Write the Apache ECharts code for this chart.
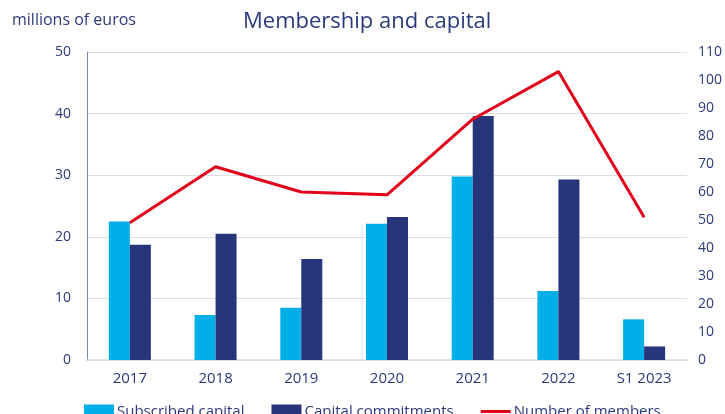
<!DOCTYPE html>
<html>
<head>
<meta charset="utf-8">
<script src="https://cdn.jsdelivr.net/npm/echarts@6/dist/echarts.min.js"></script>
<style>
  html, body { margin: 0; padding: 0; background: #ffffff; }
  #chart { width: 725px; height: 414px; }
</style>
</head>
<body>
<div id="chart"></div>
<script>
// Categories and values (millions of euros; members as counts)
const categories = ['2017', '2018', '2019', '2020', '2021', '2022', 'S1 2023'];
const subscribedCapital = [22.5, 7.3, 8.5, 22.1, 29.8, 11.2, 6.6];
const capitalCommitments = [18.7, 20.5, 16.4, 23.2, 39.6, 29.3, 2.2];
const numberOfMembers = [49, 69, 60, 59, 86, 103, 51];

const navy = '#2b3a7a';
const font = 'Open Sans';

const chart = echarts.init(document.getElementById('chart'), null, { renderer: 'canvas' });

chart.setOption({
  animation: false,
  textStyle: { fontFamily: font, color: navy },
  title: [
    {
      text: 'Membership and capital',
      left: 238,
      top: 6,
      textStyle: { fontFamily: font, fontWeight: 'normal', fontSize: 22, color: navy }
    },
    {
      text: 'millions of euros',
      left: 7,
      top: 7,
      textStyle: { fontFamily: font, fontWeight: 'normal', fontSize: 16, color: navy }
    }
  ],
  legend: {
    bottom: -5,
    left: 84,
    padding: 0,
    itemGap: 27,
    itemWidth: 30,
    itemHeight: 14,
    textStyle: { fontFamily: font, fontSize: 15, color: navy, padding: [0, 0, 0, -2] },
    data: [
      { name: 'Subscribed capital', icon: 'rect' },
      { name: 'Capital commitments', icon: 'rect' },
      { name: 'Number of members', icon: 'path://M0,0 L30,0 L30,3 L0,3 Z' }
    ]
  },
  grid: { left: 87, right: 36, top: 52, bottom: 54 },
  xAxis: {
    type: 'category',
    data: categories,
    axisTick: { show: false },
    axisLine: { lineStyle: { color: '#d9d9de', width: 1.5 } },
    axisLabel: { fontFamily: font, fontSize: 15, color: navy, margin: 11 }
  },
  yAxis: [
    {
      type: 'value',
      min: 0, max: 50, interval: 10,
      axisLine: { show: true, lineStyle: { color: '#7d88b5', width: 1 } },
      axisTick: { show: false },
      splitLine: { lineStyle: { color: '#dcdce2', width: 1 } },
      axisLabel: { fontFamily: font, fontSize: 14, color: navy, margin: 16 }
    },
    {
      type: 'value',
      min: 0, max: 110, interval: 10,
      position: 'right',
      axisLine: { show: false },
      axisTick: { show: false },
      splitLine: { show: false },
      axisLabel: { fontFamily: font, fontSize: 14, color: navy, margin: 11 }
    }
  ],
  series: [
    {
      name: 'Subscribed capital',
      type: 'bar',
      data: subscribedCapital,
      barWidth: 21,
      barGap: '0%',
      itemStyle: { color: '#00aee8' }
    },
    {
      name: 'Capital commitments',
      type: 'bar',
      data: capitalCommitments,
      barWidth: 21,
      barGap: '0%',
      itemStyle: { color: '#27357a' }
    },
    {
      name: 'Number of members',
      type: 'line',
      yAxisIndex: 1,
      data: numberOfMembers,
      symbol: 'none',
      lineStyle: { color: '#e2001a', width: 3 },
      itemStyle: { color: '#e2001a' }
    }
  ]
});
</script>
</body>
</html>
